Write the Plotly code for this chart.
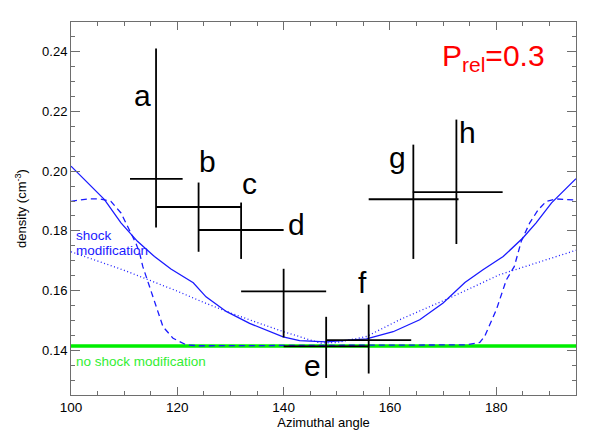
import plotly.graph_objects as go

# measured points (azimuthal angle, density) with their error ranges
labels = ["a", "b", "c", "d", "e", "f", "g", "h"]
angle = [116.0, 124.0, 132.0, 140.0, 148.0, 156.0, 164.4, 172.5]
angle_lo = [111.1, 116.0, 124.0, 132.0, 140.0, 148.0, 156.0, 164.3]
angle_hi = [121.0, 132.0, 140.0, 148.0, 156.0, 164.0, 172.9, 181.2]
density = [0.1974, 0.1880, 0.1803, 0.1597, 0.1413, 0.1434, 0.1906, 0.1930]
dens_lo = [0.1811, 0.1730, 0.1706, 0.1443, 0.1307, 0.1322, 0.1706, 0.1756]
dens_hi = [0.2411, 0.1962, 0.1895, 0.1673, 0.1512, 0.1553, 0.2089, 0.2173]

# where the letters sit
label_x = [113.5, 125.6, 133.5, 142.4, 145.5, 154.8, 161.5, 174.5]
label_y = [0.2254, 0.2033, 0.1958, 0.1822, 0.1348, 0.1627, 0.2046, 0.2130]

# model curves (shock modification)
solid_x = [100, 103.1, 106.3, 109.4, 112.5, 115.7, 118.8, 123.0, 125.4, 129.2,
           133.6, 139.9, 143.0, 148.0, 155.6, 160.6, 165.6, 170.0, 174.1, 177.5,
           181.3, 185.0, 187.5, 190.4, 195]
solid_y = [0.2017, 0.1961, 0.1905, 0.1827, 0.1765, 0.1714, 0.1672, 0.1626, 0.1579, 0.1530,
           0.1490, 0.1445, 0.1432, 0.1428, 0.1438, 0.1462, 0.1502, 0.1558, 0.1627, 0.1670,
           0.1714, 0.1776, 0.1827, 0.1894, 0.1975]

dashed_x = [100, 103.1, 105.5, 107.5, 109.4, 111.0, 112.2, 112.9, 113.5, 115.4, 117.3,
            119.2, 121.7, 124.0, 174.4, 176.9, 177.8, 180.0, 181.9, 183.4, 184.7,
            186.3, 187.9, 189.4, 191.3, 195]
dashed_y = [0.1899, 0.1907, 0.1907, 0.1899, 0.1860, 0.1804, 0.1759, 0.1726, 0.1681, 0.1580, 0.1479,
            0.1440, 0.1418, 0.1415, 0.1418, 0.1426, 0.1446, 0.1535, 0.1636, 0.1681, 0.1765,
            0.1827, 0.1871, 0.1899, 0.1907, 0.1903]

dotted_x = [100, 105, 110, 115, 120, 125, 130, 135, 140, 144, 147, 150, 155.6, 161.8, 171.2, 180.6, 195]
dotted_y = [0.1730, 0.1700, 0.1668, 0.1633, 0.1598, 0.1560, 0.1525, 0.1493, 0.1462, 0.1440, 0.1424,
            0.1426, 0.1446, 0.1502, 0.1575, 0.1653, 0.1735]

# no shock modification
flat_x = [100, 195]
flat_y = [0.1414, 0.1414]

FONT = "Liberation Sans, Arial, Helvetica, sans-serif"
BLUE = "#1a1aff"
AXIS = "#6e6e6e"

fig = go.Figure()

fig.add_trace(go.Scatter(x=flat_x, y=flat_y, mode="lines",
                         line=dict(color="#00ee00", width=3.5), showlegend=False))
fig.add_trace(go.Scatter(x=dotted_x, y=dotted_y, mode="lines",
                         line=dict(color=BLUE, width=1.3, dash="1px,2.5px"), showlegend=False))
fig.add_trace(go.Scatter(x=dashed_x, y=dashed_y, mode="lines",
                         line=dict(color=BLUE, width=1.3, dash="6px,4px"), showlegend=False))
fig.add_trace(go.Scatter(x=solid_x, y=solid_y, mode="lines",
                         line=dict(color=BLUE, width=1.3), showlegend=False))

fig.add_trace(go.Scatter(
    x=angle, y=density, mode="markers",
    marker=dict(size=1, color="rgba(0,0,0,0)"),
    error_x=dict(type="data", symmetric=False,
                 array=[h - a for h, a in zip(angle_hi, angle)],
                 arrayminus=[a - l for a, l in zip(angle, angle_lo)],
                 width=0, thickness=1.8, color="black"),
    error_y=dict(type="data", symmetric=False,
                 array=[h - d for h, d in zip(dens_hi, density)],
                 arrayminus=[d - l for d, l in zip(density, dens_lo)],
                 width=0, thickness=1.8, color="black"),
    showlegend=False,
))

for t, lx, ly in zip(labels, label_x, label_y):
    fig.add_annotation(x=lx, y=ly, text=t, showarrow=False,
                       font=dict(family=FONT, size=30, color="black"),
                       xanchor="center", yanchor="middle")

fig.add_annotation(x=100.5, y=0.1783, text="shock", showarrow=False, xanchor="left",
                   yanchor="middle", font=dict(family=FONT, size=13.5, color=BLUE))
fig.add_annotation(x=100.5, y=0.1733, text="modification", showarrow=False, xanchor="left",
                   yanchor="middle", font=dict(family=FONT, size=13.5, color=BLUE))
fig.add_annotation(x=100.5, y=0.1363, text="no shock modification", showarrow=False,
                   xanchor="left", yanchor="middle",
                   font=dict(family=FONT, size=13.5, color="#33ee33"))
fig.add_annotation(x=0.9426, y=0.905, xref="paper", yref="paper",
                   text="P<sub>rel</sub>=0.3", showarrow=False,
                   xanchor="right", yanchor="middle",
                   font=dict(family=FONT, size=30, color="red"))

fig.update_xaxes(
    range=[100, 195], dtick=20, tick0=0,
    ticks="inside", ticklen=8, tickwidth=1, tickcolor=AXIS,
    minor=dict(dtick=5, ticks="inside", ticklen=4, tickcolor=AXIS),
    showline=True, linecolor=AXIS, linewidth=1, mirror="ticks",
    showgrid=False, zeroline=False,
    tickfont=dict(family=FONT, size=13.5, color="black"),
    title=dict(text="Azimuthal angle", font=dict(family=FONT, size=13, color="black"), standoff=2),
)
fig.update_yaxes(
    range=[0.125, 0.25], dtick=0.02, tick0=0, tickformat=".2f",
    ticks="inside", ticklen=9, tickwidth=1, tickcolor=AXIS,
    minor=dict(dtick=0.005, ticks="inside", ticklen=4, tickcolor=AXIS),
    showline=True, linecolor=AXIS, linewidth=1, mirror="ticks",
    showgrid=False, zeroline=False,
    tickfont=dict(family=FONT, size=13, color="black"),
    title=dict(text="density (cm<sup>-3</sup>)", font=dict(family=FONT, size=13, color="black"), standoff=12),
)

# the page adds an 8 px body margin, so the plot box is pulled up-left by 8 px
fig.update_layout(
    width=598, height=441,
    margin=dict(l=63, r=30, t=14, b=54, autoexpand=False),
    plot_bgcolor="white", paper_bgcolor="white",
    showlegend=False,
)

fig.write_html("out.html")
